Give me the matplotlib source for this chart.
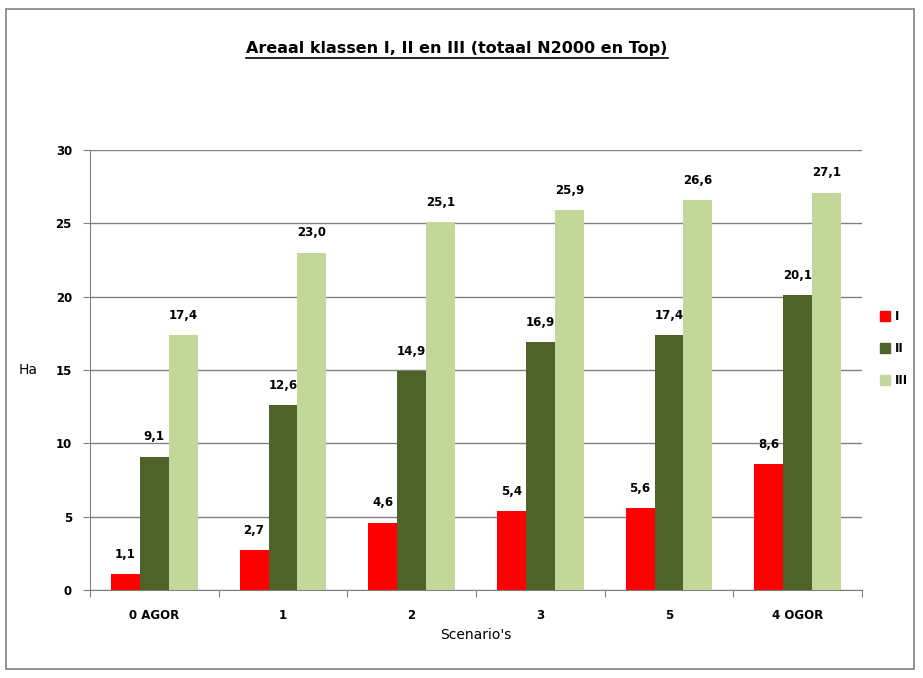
import numpy as np
import matplotlib.pyplot as plt
from matplotlib.patches import Rectangle

scenarios = ["0 AGOR", "1", "2", "3", "5", "4 OGOR"]
klasse_1 = [1.1, 2.7, 4.6, 5.4, 5.6, 8.6]
klasse_2 = [9.1, 12.6, 14.9, 16.9, 17.4, 20.1]
klasse_3 = [17.4, 23.0, 25.1, 25.9, 26.6, 27.1]
series_names = ["I", "II", "III"]
colors = ["#FF0000", "#4F6228", "#C4D79B"]

plt.rcParams["font.family"] = ["Verdana", "DejaVu Sans"]

W, H = 923, 678
fig = plt.figure(figsize=(W / 100, H / 100), dpi=100)
ax = fig.add_axes([90 / W, 1 - 590 / H, (862 - 90) / W, (590 - 150) / H])

x = np.arange(len(scenarios))
bw = 0.225
for i, (vals, c, name) in enumerate(zip([klasse_1, klasse_2, klasse_3], colors, series_names)):
    bars = ax.bar(x + (i - 1) * bw, vals, bw, color=c, label=name, zorder=3)
    for b, v in zip(bars, vals):
        ax.text(b.get_x() + b.get_width() / 2, v + 0.9, f"{v:.1f}".replace(".", ","),
                ha="center", va="bottom", fontsize=8.5, fontweight="bold")

ax.set_xlim(-0.5, len(scenarios) - 0.5)
ax.set_ylim(0, 30)
ax.set_yticks(range(0, 31, 5))
ax.yaxis.grid(True, color="#808080", lw=1, zorder=0)
ax.set_xticks(np.arange(-0.5, len(scenarios), 1), minor=False)
ax.set_xticklabels([])
ax.set_xticks(x, minor=True)
ax.set_xticklabels(scenarios, minor=True, fontsize=8.5, fontweight="bold")
ax.tick_params(axis="x", which="major", length=5, color="#808080")
ax.tick_params(axis="x", which="minor", length=0, pad=14)
ax.tick_params(axis="y", length=5, color="#808080", labelsize=8.5, pad=8)
for lbl in ax.get_yticklabels():
    lbl.set_fontweight("bold")
for side in ["top", "right"]:
    ax.spines[side].set_visible(False)
for side in ["left", "bottom"]:
    ax.spines[side].set_color("#808080")

ax.set_xlabel("Scenario's", fontsize=10, labelpad=4)
fig.text(28 / W, 1 - 370 / H, "Ha", fontsize=10, va="center", ha="center")

title = fig.text(457 / W, 1 - 49 / H, "Areaal klassen I, II en III (totaal N2000 en Top)",
                 ha="center", va="center", fontsize=11.5, fontweight="bold")
fig.canvas.draw()
bb = title.get_window_extent()
fig.add_artist(plt.Line2D([bb.x0 / W, bb.x1 / W], [(bb.y0 - 1) / H, (bb.y0 - 1) / H],
                          color="black", lw=1.2, transform=fig.transFigure))

# legend
for i, (c, name) in enumerate(zip(colors, series_names)):
    yc = 316 + i * 32
    fig.add_artist(Rectangle((880 / W, 1 - (yc + 5) / H), 10 / W, 10 / H,
                             color=c, transform=fig.transFigure))
    fig.text(895 / W, 1 - yc / H, name, fontsize=8.5, fontweight="bold", va="center")

# chart border
fig.add_artist(Rectangle((6 / W, 1 - 669 / H), 908 / W, 660 / H, fill=False,
                         edgecolor="#808080", lw=1.2, transform=fig.transFigure))

fig.savefig("out.png", dpi=100)
